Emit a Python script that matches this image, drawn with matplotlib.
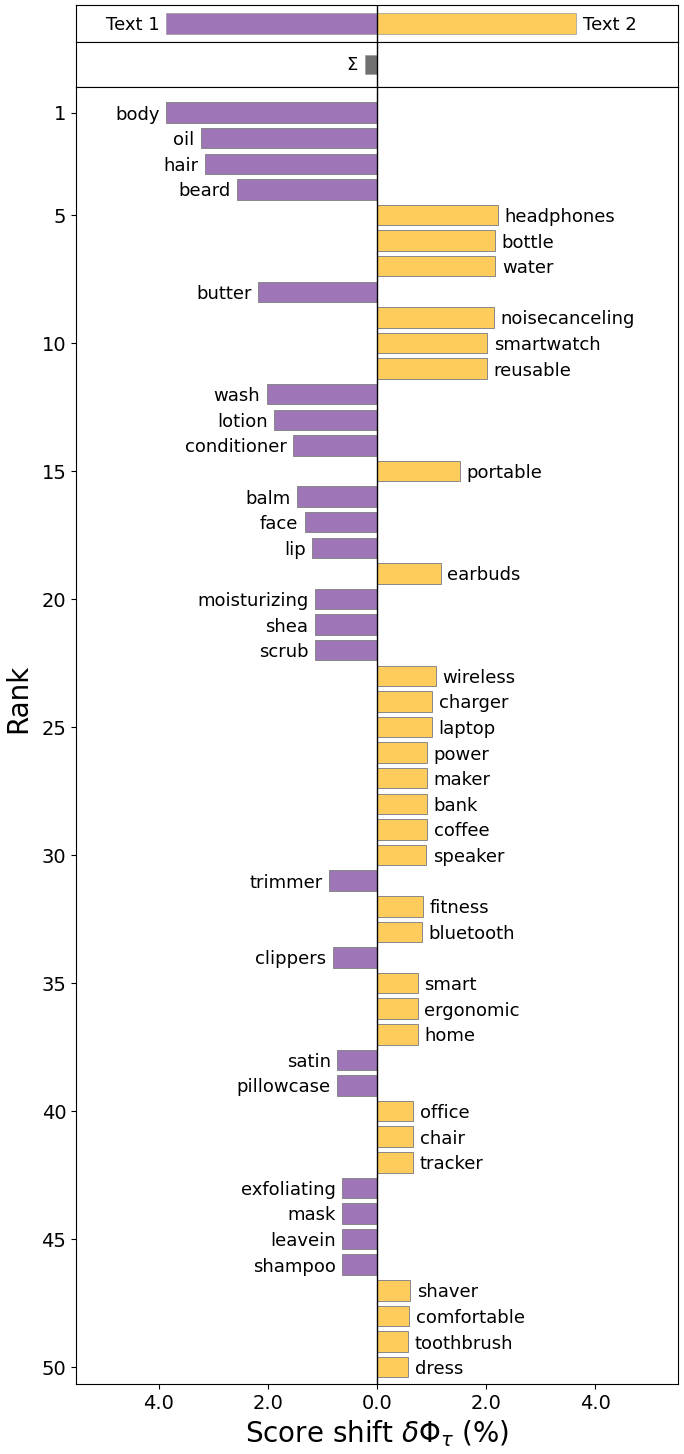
import numpy as np
import matplotlib
matplotlib.use('Agg')
import matplotlib.pyplot as plt

words = ["body", "oil", "hair", "beard", "headphones", "bottle", "water", "butter",
         "noisecanceling", "smartwatch", "reusable", "wash", "lotion", "conditioner",
         "portable", "balm", "face", "lip", "earbuds", "moisturizing", "shea", "scrub",
         "wireless", "charger", "laptop", "power", "maker", "bank", "coffee", "speaker",
         "trimmer", "fitness", "bluetooth", "clippers", "smart", "ergonomic", "home",
         "satin", "pillowcase", "office", "chair", "tracker", "exfoliating", "mask",
         "leavein", "shampoo", "shaver", "comfortable", "toothbrush", "dress"]
shifts = [-3.87, -3.23, -3.16, -2.57, 2.22, 2.17, 2.17, -2.18,
          2.15, 2.02, 2.02, -2.02, -1.89, -1.54,
          1.52, -1.47, -1.32, -1.19, 1.17, -1.14, -1.14, -1.14,
          1.08, 1.01, 1.01, 0.92, 0.92, 0.92, 0.92, 0.90,
          -0.88, 0.84, 0.83, -0.81, 0.75, 0.75, 0.75,
          -0.73, -0.73, 0.66, 0.66, 0.66, -0.64, -0.64,
          -0.64, -0.64, 0.61, 0.59, 0.57, 0.57]
total_labels = ["Text 1", "Text 2"]
total_values = [-3.87, 3.65]
sigma_value = -0.22

purple = "#9E75B7"
yellow = "#FECC5D"
xmax = 5.52

fig = plt.figure(figsize=(6.84, 14.54), dpi=100)
W, H = 684., 1454.
def box(x0, y0, x1, y1):
    return [x0 / W, 1 - y1 / H, (x1 - x0) / W, (y1 - y0) / H]

# top panel: totals
ax_t = fig.add_axes(box(76, 5, 678, 42))
ax_t.barh([0], [total_values[0]], height=0.55, color=purple, edgecolor='#999999', linewidth=0.5)
ax_t.barh([0], [total_values[1]], height=0.55, color=yellow, edgecolor='#999999', linewidth=0.5)
ax_t.text(total_values[0] - 0.12, 0, total_labels[0], ha='right', va='center_baseline', fontsize=13)
ax_t.text(total_values[1] + 0.12, 0, total_labels[1], ha='left', va='center_baseline', fontsize=13)
ax_t.set_xlim(-xmax, xmax)
ax_t.set_ylim(-0.5, 0.5)
ax_t.axvline(0, color='black', lw=1)
ax_t.set_xticks([]); ax_t.set_yticks([])

# sigma panel
ax_s = fig.add_axes(box(76, 42, 678, 87))
ax_s.barh([0], [sigma_value], height=0.42, color='#707070', edgecolor='#999999', linewidth=0.5)
ax_s.text(sigma_value - 0.12, 0, r"$\Sigma$", ha='right', va='center', fontsize=13)
ax_s.set_xlim(-xmax, xmax)
ax_s.set_ylim(-0.5, 0.5)
ax_s.axvline(0, color='black', lw=1)
ax_s.set_xticks([]); ax_s.set_yticks([])

# main panel
ax = fig.add_axes(box(76, 87, 678, 1384))
ranks = np.arange(1, len(words) + 1)
cols = [yellow if v > 0 else purple for v in shifts]
ax.barh(ranks, shifts, height=0.8, color=cols, edgecolor='#888888', linewidth=0.7)
for r, w, v in zip(ranks, words, shifts):
    if v > 0:
        ax.text(v + 0.12, r, w, ha='left', va='center_baseline', fontsize=13)
    else:
        ax.text(v - 0.12, r, w, ha='right', va='center_baseline', fontsize=13)
ax.axvline(0, color='black', lw=1)
ax.set_xlim(-xmax, xmax)
ax.set_ylim(50.66, 0.0)
ax.set_yticks([1, 5, 10, 15, 20, 25, 30, 35, 40, 45, 50])
ax.set_xticks([-4, -2, 0, 2, 4])
ax.set_xticklabels(["4.0", "2.0", "0.0", "2.0", "4.0"])
ax.tick_params(labelsize=14)
ax.set_ylabel("Rank", fontsize=20)
ax.yaxis.set_label_coords(-0.072, 0.529)
ax.set_xlabel(r"Score shift $\delta\Phi_{\tau}$ (%)", fontsize=20)

fig.savefig("out.png", dpi=100)
